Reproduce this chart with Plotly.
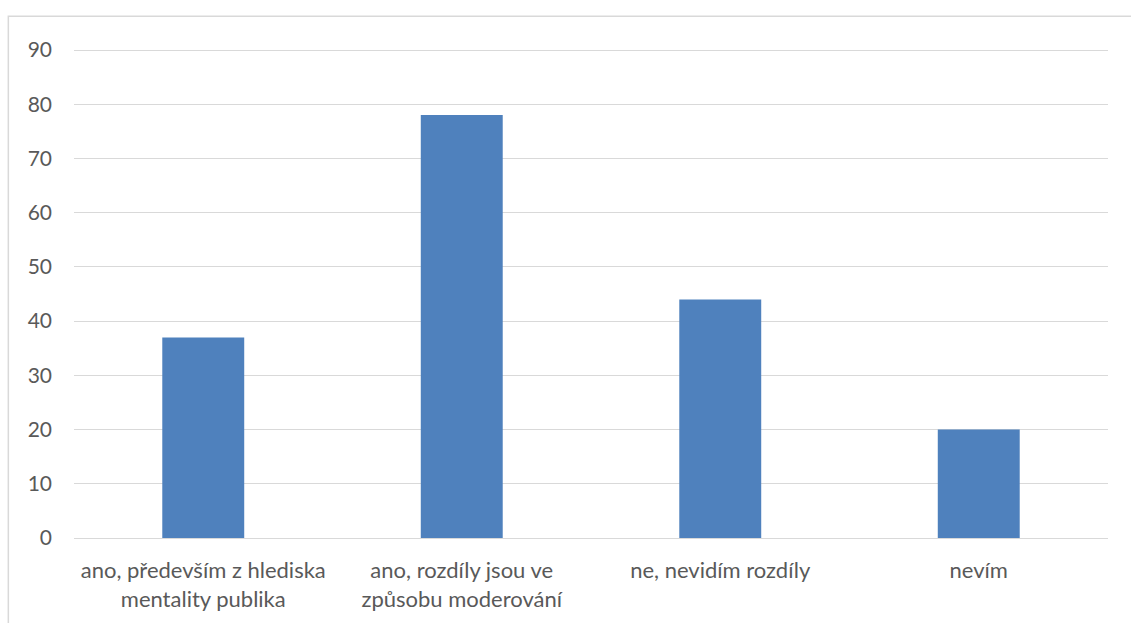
import plotly.graph_objects as go

categories = [
    "ano, především z hlediska<br>mentality publika",
    "ano, rozdíly jsou ve<br>způsobu moderování",
    "ne, nevidím rozdíly",
    "nevím",
]
values = [37, 78, 44, 20]
y_ticks = [0, 10, 20, 30, 40, 50, 60, 70, 80, 90]

fig = go.Figure(
    go.Bar(
        x=categories,
        y=values,
        marker=dict(color="#4F81BD", line=dict(width=0)),
    )
)

fig.update_layout(
    width=1131,
    height=623,
    margin=dict(l=74, r=23, t=48, b=85),
    paper_bgcolor="white",
    plot_bgcolor="white",
    bargap=0.683,
    showlegend=False,
    font=dict(family="Lato, Open Sans, sans-serif", size=22, color="#595959"),
    xaxis=dict(
        showgrid=False,
        showline=False,
        ticks="",
        ticklabelstandoff=17,
        tickfont=dict(size=22, color="#595959"),
    ),
    yaxis=dict(
        range=[0, 90.37],
        tickvals=y_ticks,
        showgrid=True,
        gridcolor="#d9d9d9",
        gridwidth=1,
        zeroline=True,
        zerolinecolor="#d9d9d9",
        zerolinewidth=1,
        showline=False,
        ticks="",
        ticklabelstandoff=21,
        tickfont=dict(size=21, color="#595959"),
    ),
    shapes=[
        dict(
            type="rect",
            xref="paper",
            yref="paper",
            x0=-0.0635,
            x1=1.1,
            y0=-0.3,
            y1=1.065,
            line=dict(color="#d9d9d9", width=1.5),
            fillcolor="rgba(0,0,0,0)",
            layer="below",
        )
    ],
)

fig.write_html("out.html")
